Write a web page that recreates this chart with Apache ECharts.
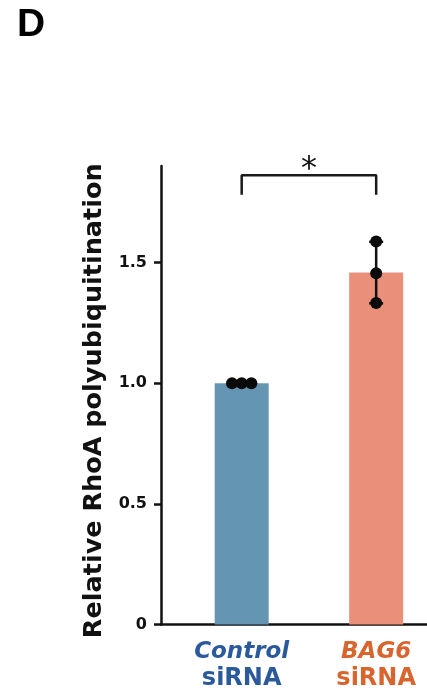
<!DOCTYPE html>
<html><head><meta charset="utf-8">
<script src="https://cdn.jsdelivr.net/npm/echarts@6/dist/echarts.min.js"></script>
<style>html,body{margin:0;padding:0;background:#fff}#c{width:427px;height:691px}</style>
</head><body><div id="c"></div>
<script>
// ---- data ----
const categories = ['Control', 'BAG6'];
const categorySuffix = 'siRNA';
const replicates = [
  [1.0, 1.0, 1.0],
  [1.587, 1.456, 1.332]
];
const yTicks = [0, 0.5, 1.0, 1.5];
const significanceLabel = '*';
const panelLabel = 'D';
const yTitle = 'Relative RhoA polyubiquitination';

// ---- styles / layout ----
const barColors = ['#6496b4', '#e98f7a'];
const textColors = ['#2b5a9c', '#d9652e'];
const ink = '#111';
const FONT = 'DejaVu Sans';
const jitter = [[-0.072, 0, 0.072], [0, 0, 0]];
const bracketTop = 1.862, bracketLeg = 1.781;

const mean = a => a.reduce((s, v) => s + v, 0) / a.length;
const sd = a => { const m = mean(a); return Math.sqrt(a.reduce((s, v) => s + (v - m) * (v - m), 0) / (a.length - 1)); };
const pos = i => i + 1;

const barData = categories.map((c, i) => ({ value: [pos(i), mean(replicates[i])], itemStyle: { color: barColors[i] } }));
const errData = categories.map((c, i) => [pos(i), mean(replicates[i]) - sd(replicates[i]), mean(replicates[i]) + sd(replicates[i])]);
const ptData = [];
replicates.forEach((r, i) => r.forEach((v, k) => ptData.push([pos(i) + jitter[i][k], v])));
const bracketData = [[pos(0), bracketLeg], [pos(0), bracketTop], [pos(1), bracketTop], [pos(1), bracketLeg]];

const chart = echarts.init(document.getElementById('c'), null, { renderer: 'canvas' });
chart.setOption({
  animation: false,
  backgroundColor: '#fff',
  grid: { left: 161, right: 0, top: 166, bottom: 66.5, containLabel: false, outerBoundsMode: 'none' },
  graphic: [{ type: 'text', left: 17, top: 6, style: { text: panelLabel, font: 'bold 39px "Liberation Sans"', fill: '#000' } }],
  xAxis: {
    type: 'value', min: 0.4, max: 2.378, interval: 0.2,
    splitLine: { show: false },
    axisTick: { show: false },
    axisLine: { lineStyle: { color: ink, width: 2.5 } },
    axisLabel: {
      margin: 14,
      formatter: v => {
        const i = categories.findIndex((c, k) => Math.abs(pos(k) - v) < 1e-6);
        if (i < 0) return '';
        return '{a' + i + '|' + categories[i] + '}\n{b' + i + '|' + categorySuffix + '}';
      },
      rich: {
        a0: { fontFamily: FONT, fontWeight: 'bold', fontStyle: 'italic', fontSize: 23, color: textColors[0], lineHeight: 27 },
        b0: { fontFamily: FONT, fontWeight: 'bold', fontSize: 24, color: textColors[0], lineHeight: 27 },
        a1: { fontFamily: FONT, fontWeight: 'bold', fontStyle: 'italic', fontSize: 23, color: textColors[1], lineHeight: 27 },
        b1: { fontFamily: FONT, fontWeight: 'bold', fontSize: 24, color: textColors[1], lineHeight: 27 }
      }
    }
  },
  yAxis: {
    type: 'value', min: 0, max: 1.9,
    splitLine: { show: false },
    axisLine: { show: true, lineStyle: { color: ink, width: 2.5 } },
    axisTick: { show: true, length: 7, lineStyle: { color: ink, width: 2.5 }, customValues: yTicks },
    axisLabel: {
      customValues: yTicks, margin: 14,
      fontFamily: FONT, fontWeight: 'bold', fontSize: 16, color: ink,
      formatter: v => v === 0 ? '0' : v.toFixed(1)
    },
    name: yTitle, nameLocation: 'middle', nameGap: 49,
    nameTextStyle: { fontFamily: FONT, fontWeight: 'bold', fontSize: 25.5, color: ink, padding: [0, 0, 0, -11] }
  },
  series: [
    { type: 'bar', data: barData, barWidth: 54, z: 1 },
    {
      type: 'custom', data: errData, z: 3, encode: { x: 0, y: [1, 2] },
      renderItem: (params, api) => {
        const x = api.value(0);
        const lo = api.coord([x, api.value(1)]), hi = api.coord([x, api.value(2)]);
        const hw = 7, st = { stroke: ink, lineWidth: 2.5 };
        return { type: 'group', children: [
          { type: 'line', shape: { x1: hi[0], y1: hi[1], x2: lo[0], y2: lo[1] }, style: st },
          { type: 'line', shape: { x1: hi[0] - hw, y1: hi[1], x2: hi[0] + hw, y2: hi[1] }, style: st },
          { type: 'line', shape: { x1: lo[0] - hw, y1: lo[1], x2: lo[0] + hw, y2: lo[1] }, style: st }
        ] };
      }
    },
    { type: 'scatter', data: ptData, symbol: 'circle', symbolSize: 12, itemStyle: { color: '#0a0a0a', opacity: 1 }, z: 4 },
    {
      type: 'line', data: bracketData, showSymbol: false, symbol: 'none', clip: false, z: 5,
      lineStyle: { color: '#1a1a1a', width: 2.5 }
    },
    {
      type: 'scatter', data: [[(pos(0) + pos(1)) / 2, bracketTop]], symbolSize: 0, z: 6,
      itemStyle: { opacity: 1 },
      label: { show: true, formatter: significanceLabel, position: 'inside', offset: [0, -5],
        fontFamily: FONT, fontWeight: 'normal', fontSize: 32, color: '#111', textBorderWidth: 0, opacity: 1 }
    }
  ]
});
</script>
</body></html>
